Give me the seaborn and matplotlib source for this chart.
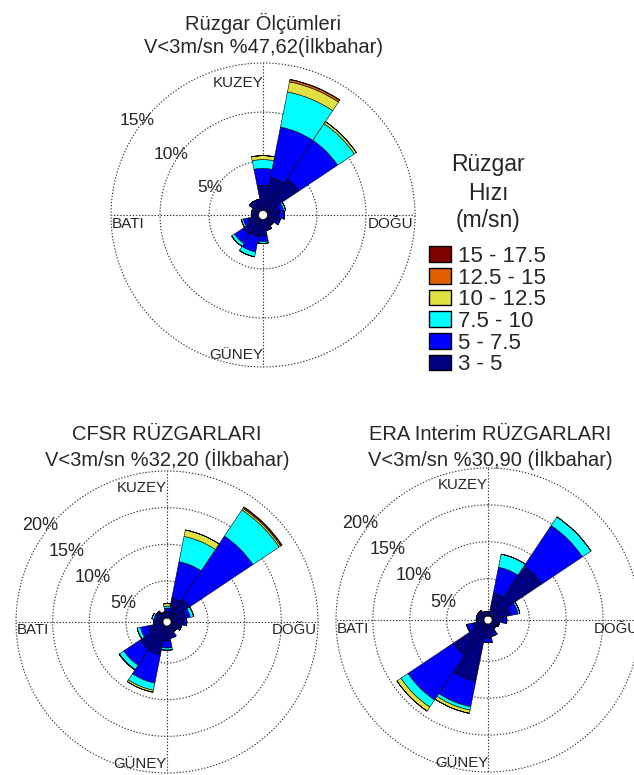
import numpy as np
import matplotlib
matplotlib.use("Agg")
import matplotlib.pyplot as plt
from matplotlib.patches import Patch
import seaborn as sns

# ---- data -------------------------------------------------------------
directions = ["N", "NNE", "NE", "ENE", "E", "ESE", "SE", "SSE",
              "S", "SSW", "SW", "WSW", "W", "WNW", "NW", "NNW"]
speed_bins = ["3 - 5", "5 - 7.5", "7.5 - 10", "10 - 12.5", "12.5 - 15", "15 - 17.5"]
bin_colors = ["#000080", "#0000FF", "#00FFFF", "#E0E040", "#E06000", "#800000"]

# frequency (%) per direction, one list per speed bin
olcum_3_5    = [2.55, 3.40, 3.95, 1.20, 1.20, 1.00, 0.70, 0.90, 1.65, 1.75, 1.90, 1.10, 0.60, 0.45, 1.00, 0.90]
olcum_5_75   = [1.70, 5.25, 4.70, 0.45, 0.45, 0.30, 0.10, 0.20, 0.57, 1.60, 1.10, 0.45, 0.10, 0.15, 0.20, 0.25]
olcum_75_10  = [0.90, 3.65, 2.05, 0.20, 0.05, 0.00, 0.00, 0.00, 0.17, 0.50, 0.35, 0.20, 0.00, 0.10, 0.00, 0.00]
olcum_10_125 = [0.40, 1.05, 0.25, 0.00, 0.00, 0.00, 0.00, 0.00, 0.00, 0.00, 0.00, 0.00, 0.00, 0.00, 0.00, 0.00]
olcum_125_15 = [0.00, 0.22, 0.00, 0.00, 0.00, 0.00, 0.00, 0.00, 0.00, 0.00, 0.00, 0.00, 0.00, 0.00, 0.00, 0.00]
olcum_15_175 = [0.00, 0.05, 0.00, 0.00, 0.00, 0.00, 0.00, 0.00, 0.00, 0.00, 0.00, 0.00, 0.00, 0.00, 0.00, 0.00]

cfsr_3_5    = [0.85, 2.75, 3.15, 2.10, 1.70, 1.20, 0.90, 1.30, 2.00, 4.00, 3.85, 2.00, 0.90, 0.90, 1.00, 0.70]
cfsr_5_75   = [0.45, 5.05, 10.35, 0.55, 0.40, 0.25, 0.10, 0.35, 0.95, 3.90, 2.65, 1.10, 0.30, 0.30, 0.20, 0.10]
cfsr_75_10  = [0.28, 3.50, 4.30, 0.45, 0.00, 0.00, 0.00, 0.00, 0.30, 1.00, 0.70, 0.45, 0.00, 0.30, 0.00, 0.00]
cfsr_10_125 = [0.32, 0.90, 0.25, 0.00, 0.00, 0.00, 0.00, 0.00, 0.00, 0.27, 0.07, 0.00, 0.00, 0.00, 0.00, 0.00]
cfsr_125_15 = [0.00, 0.00, 0.15, 0.00, 0.00, 0.00, 0.00, 0.00, 0.00, 0.00, 0.00, 0.00, 0.00, 0.00, 0.00, 0.00]
cfsr_15_175 = [0.00, 0.00, 0.10, 0.00, 0.00, 0.00, 0.00, 0.00, 0.00, 0.00, 0.00, 0.00, 0.00, 0.00, 0.00, 0.00]

era_3_5    = [0.50, 3.10, 8.20, 2.55, 1.50, 0.90, 0.70, 1.30, 1.90, 7.90, 5.10, 1.50, 0.90, 0.70, 0.80, 0.60]
era_5_75   = [0.05, 3.60, 6.60, 1.00, 0.45, 0.10, 0.10, 0.35, 0.55, 3.50, 7.35, 0.85, 0.10, 0.30, 0.20, 0.00]
era_75_10  = [0.00, 1.80, 1.40, 0.25, 0.00, 0.00, 0.00, 0.00, 0.00, 0.45, 1.15, 0.00, 0.00, 0.00, 0.00, 0.00]
era_10_125 = [0.00, 0.00, 0.00, 0.00, 0.00, 0.00, 0.00, 0.00, 0.00, 0.45, 0.65, 0.00, 0.00, 0.00, 0.00, 0.00]
era_125_15 = [0.00] * 16
era_15_175 = [0.00] * 16

olcum = [olcum_3_5, olcum_5_75, olcum_75_10, olcum_10_125, olcum_125_15, olcum_15_175]
cfsr = [cfsr_3_5, cfsr_5_75, cfsr_75_10, cfsr_10_125, cfsr_125_15, cfsr_15_175]
era = [era_3_5, era_5_75, era_75_10, era_10_125, era_125_15, era_15_175]

compass_labels = ["KUZEY", "DOĞU", "GÜNEY", "BATI"]

# ---- style ------------------------------------------------------------
sns.set_theme(style="white")
plt.rcParams["font.family"] = ["Liberation Sans", "DejaVu Sans"]
palette = sns.color_palette(bin_colors)

W, H = 634, 775
fig = plt.figure(figsize=(W / 100, H / 100), dpi=100)


def px_rect(cx, cy, r):
    return [(cx - r) / W, (H - cy - r) / H, 2 * r / W, 2 * r / H]


def wind_rose(rect, freqs, rmax, rings, hole, pct_pos, fs_pct, fs_dir, dir_y):
    ax = fig.add_axes(rect, projection="polar")
    ax.set_theta_zero_location("N")
    ax.set_theta_direction(-1)
    ax.set_ylim(0, rmax)
    ax.set_rorigin(-hole)
    ax.set_xticks([])
    ax.set_yticks([])
    ax.grid(False)
    ax.spines["polar"].set_visible(False)
    ax.set_facecolor("none")

    # dotted rings and cross lines
    t = np.linspace(0, 2 * np.pi, 721)
    for r in rings:
        ax.plot(t, np.full_like(t, r), ls=(0, (1.2, 1.6)), color="#333333",
                lw=0.8, clip_on=False, zorder=1)
    for a in (0, 90, 180, 270):
        ax.plot([np.deg2rad(a)] * 2, [0, rmax], ls=(0, (1.2, 1.6)),
                color="#333333", lw=0.8, clip_on=False, zorder=1)

    theta = np.deg2rad(np.arange(len(directions)) * 22.5)
    width = 2 * np.pi / len(directions)
    bottom = np.zeros(len(directions))
    for vals, col in zip(freqs, palette):
        vals = np.asarray(vals)
        ax.bar(theta, vals, width=width, bottom=bottom, color=col,
               edgecolor="black", linewidth=0.4, zorder=3)
        bottom += vals

    for (x, y), r in zip(pct_pos, rings):
        ax.text(x, y, f"{r}%", transform=ax.transAxes, ha="center",
                va="center", fontsize=fs_pct, zorder=5)

    kw = dict(transform=ax.transAxes, fontsize=fs_dir, zorder=5)
    ax.text(0.5, dir_y[0], compass_labels[0], ha="right", va="center", **kw)
    ax.text(0.995, 0.472, compass_labels[1], ha="right", va="center", **kw)
    ax.text(0.5, dir_y[1], compass_labels[2], ha="right", va="center", **kw)
    ax.text(0.003, 0.472, compass_labels[3], ha="left", va="center", **kw)
    return ax


# top: measurements
wind_rose(px_rect(263, 215, 152), olcum, 15, [5, 10, 15], 0.5,
          [(0.326, 0.589), (0.197, 0.700), (0.086, 0.812)], 12.5, 11,
          (0.935, 0.040))
fig.text(263 / W, 1 - 23 / H, "Rüzgar Ölçümleri", ha="center", va="center", fontsize=14.5)
fig.text(263 / W, 1 - 46 / H, "V<3m/sn %47,62(İlkbahar)", ha="center", va="center", fontsize=14.5)

# bottom left: CFSR
wind_rose(px_rect(167, 622, 151), cfsr, 20, [5, 10, 15, 20], 0.6,
          [(0.354, 0.560), (0.255, 0.649), (0.169, 0.735), (0.079, 0.821)],
          13, 10.8, (0.944, 0.030))
fig.text(167 / W, 1 - 434 / H, "CFSR RÜZGARLARI", ha="center", va="center", fontsize=14.5)
fig.text(167 / W, 1 - 459 / H, "V<3m/sn %32,20 (İlkbahar)", ha="center", va="center", fontsize=14.5)

# bottom right: ERA Interim
wind_rose(px_rect(488, 620, 152), era, 20, [5, 10, 15, 20], 0.6,
          [(0.354, 0.558), (0.255, 0.647), (0.169, 0.733), (0.079, 0.819)],
          13, 10.8, (0.944, 0.030))
fig.text(490 / W, 1 - 434 / H, "ERA Interim RÜZGARLARI", ha="center", va="center", fontsize=14.5)
fig.text(490 / W, 1 - 459 / H, "V<3m/sn %30,90 (İlkbahar)", ha="center", va="center", fontsize=14.5)

# legend
for txt, y in zip(["Rüzgar", "Hızı", "(m/sn)"], [165, 193, 220]):
    fig.text(488 / W, 1 - y / H, txt, ha="center", va="center", fontsize=16.5)
handles = [Patch(facecolor=palette[i], edgecolor="black", linewidth=1.0)
           for i in range(len(speed_bins) - 1, -1, -1)]
labels = speed_bins[::-1]
fig.legend(handles, labels, loc="upper left",
           bbox_to_anchor=(429 / W, 1 - 246 / H), frameon=False,
           fontsize=16, handlelength=1.0, handleheight=0.72,
           handletextpad=0.32, labelspacing=0.03, borderpad=0,
           borderaxespad=0)

fig.savefig("out.png", dpi=100)
